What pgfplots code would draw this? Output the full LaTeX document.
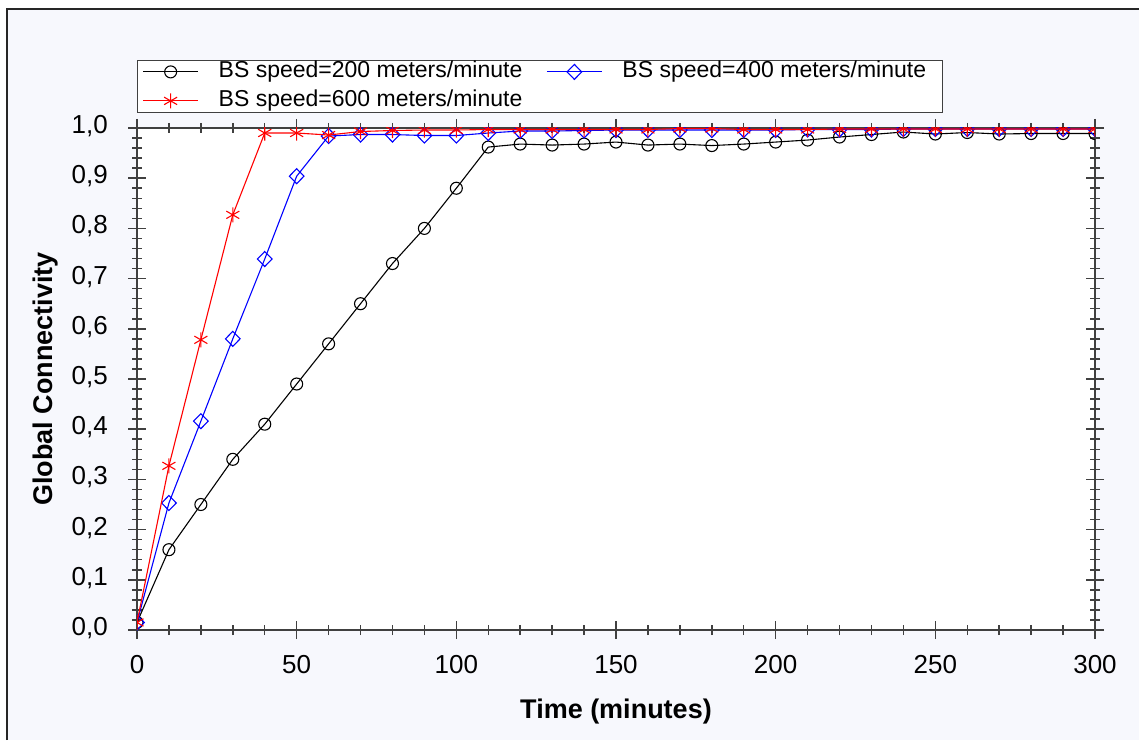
\documentclass[border=0pt]{standalone}
\usepackage{fontspec}
\setmainfont{Liberation Sans}
\usepackage{pgfplots}
\pgfplotsset{compat=1.18}
\definecolor{panelbg}{RGB}{247,248,253}
\definecolor{axisgray}{RGB}{64,64,64}

\begin{document}
\begin{tikzpicture}[x=1pt,y=1pt]
\path[use as bounding box] (0,0) rectangle (1139,740);
\fill[white] (0,0) rectangle (1139,740);
\fill[panelbg] (7,0) rectangle (1139,731);
\draw[line width=1.5pt, black!85] (7,0) -- (7,731) -- (1139,731);
\begin{axis}[
    at={(137pt,110pt)}, anchor=south west,
    scale only axis,
    width=958pt, height=502pt,
    xmin=0, xmax=300, ymin=0, ymax=1,
    xtick={0,50,100,150,200,250,300},
    minor x tick num=4,
    ytick={0,0.1,0.2,0.3,0.4,0.5,0.6,0.7,0.8,0.9,1.0},
    yticklabels={{0,0},{0,1},{0,2},{0,3},{0,4},{0,5},{0,6},{0,7},{0,8},{0,9},{1,0}},
    minor y tick num=4,
    tick align=center,
    major tick length=18pt, minor tick length=10pt,
    axis line style={axisgray, line width=2pt},
    tick style={axisgray, line width=1.5pt},
    axis background/.style={fill=white},
    clip marker paths=true,
    /pgf/number format/assume math mode=true,
    tick label style={font=\fontsize{26}{30}\selectfont, inner sep=0pt},
    yticklabel style={anchor=east, text height=0.716em, text depth=0pt, xshift=-20pt, yshift=-2pt},
    xticklabel style={anchor=north, text height=0.716em, text depth=0pt, yshift=-27pt},
    xlabel={Time (minutes)},
    ylabel={Global Connectivity},
    label style={font=\bfseries\fontsize{27}{32}\selectfont, inner sep=0pt},
    xlabel style={at={(axis description cs:0.5,-0.1753)}, anchor=base},
    ylabel style={at={(axis description cs:-0.0887,0.5)}, anchor=base},
    legend columns=2,
    legend cell align=left,
    legend image code/.code={\draw[mark repeat=2,mark phase=2] plot coordinates {(0pt,0pt) (27.5pt,0pt) (55pt,0pt)};},
    legend style={at={(rel axis cs:0,1)}, anchor=south west, yshift=15pt,
        draw=axisgray, line width=1.2pt, fill=white,
        font=\fontsize{23}{27}\selectfont,
        inner xsep=5pt, inner ysep=1pt, row sep=8pt,
        nodes={inner sep=0pt, text height=16pt, text depth=5pt},
        /tikz/every odd column/.append style={column sep=20pt},
        /tikz/every even column/.append style={column sep=24pt}},
]
\addplot[black, line width=1.1pt, mark=o, mark size=6pt] coordinates {
    (0,0.015) (10,0.16) (20,0.25) (30,0.34) (40,0.41) (50,0.49)
    (60,0.57) (70,0.65) (80,0.73) (90,0.80) (100,0.88) (110,0.962)
    (120,0.968) (130,0.966) (140,0.968) (150,0.972) (160,0.966) (170,0.968)
    (180,0.965) (190,0.968) (200,0.972) (210,0.976) (220,0.982) (230,0.987)
    (240,0.992) (250,0.988) (260,0.991) (270,0.988) (280,0.989) (290,0.989) (300,0.989)
};
\addlegendentry{BS speed=200 meters/minute}
\addplot[blue, line width=1.1pt, mark=diamond, mark size=7.5pt, mark options={xscale=1.3}] coordinates {
    (0,0.015) (10,0.253) (20,0.416) (30,0.58) (40,0.739) (50,0.904)
    (60,0.984) (70,0.987) (80,0.987) (90,0.985) (100,0.985) (110,0.99)
    (120,0.994) (130,0.994) (140,0.995) (150,0.996) (160,0.996) (170,0.996)
    (180,0.996) (190,0.996) (200,0.996) (210,0.997) (220,0.997) (230,0.997)
    (240,0.998) (250,0.998) (260,0.998) (270,0.998) (280,0.998) (290,0.998) (300,0.998)
};
\addlegendentry{BS speed=400 meters/minute\hspace*{11pt}}
\addplot[red, line width=1.1pt, mark=asterisk, mark size=7.5pt] coordinates {
    (0,0.015) (10,0.327) (20,0.578) (30,0.827) (40,0.99) (50,0.99)
    (60,0.986) (70,0.993) (80,0.995) (90,0.996) (100,0.996) (110,0.997)
    (120,0.997) (130,0.997) (140,0.997) (150,0.997) (160,0.997) (170,0.999)
    (180,0.999) (190,0.997) (200,0.997) (210,0.997) (220,0.998) (230,0.998)
    (240,0.998) (250,0.998) (260,0.998) (270,0.998) (280,0.998) (290,0.998) (300,0.998)
};
\addlegendentry{BS speed=600 meters/minute}
\end{axis}
\end{tikzpicture}
\end{document}
